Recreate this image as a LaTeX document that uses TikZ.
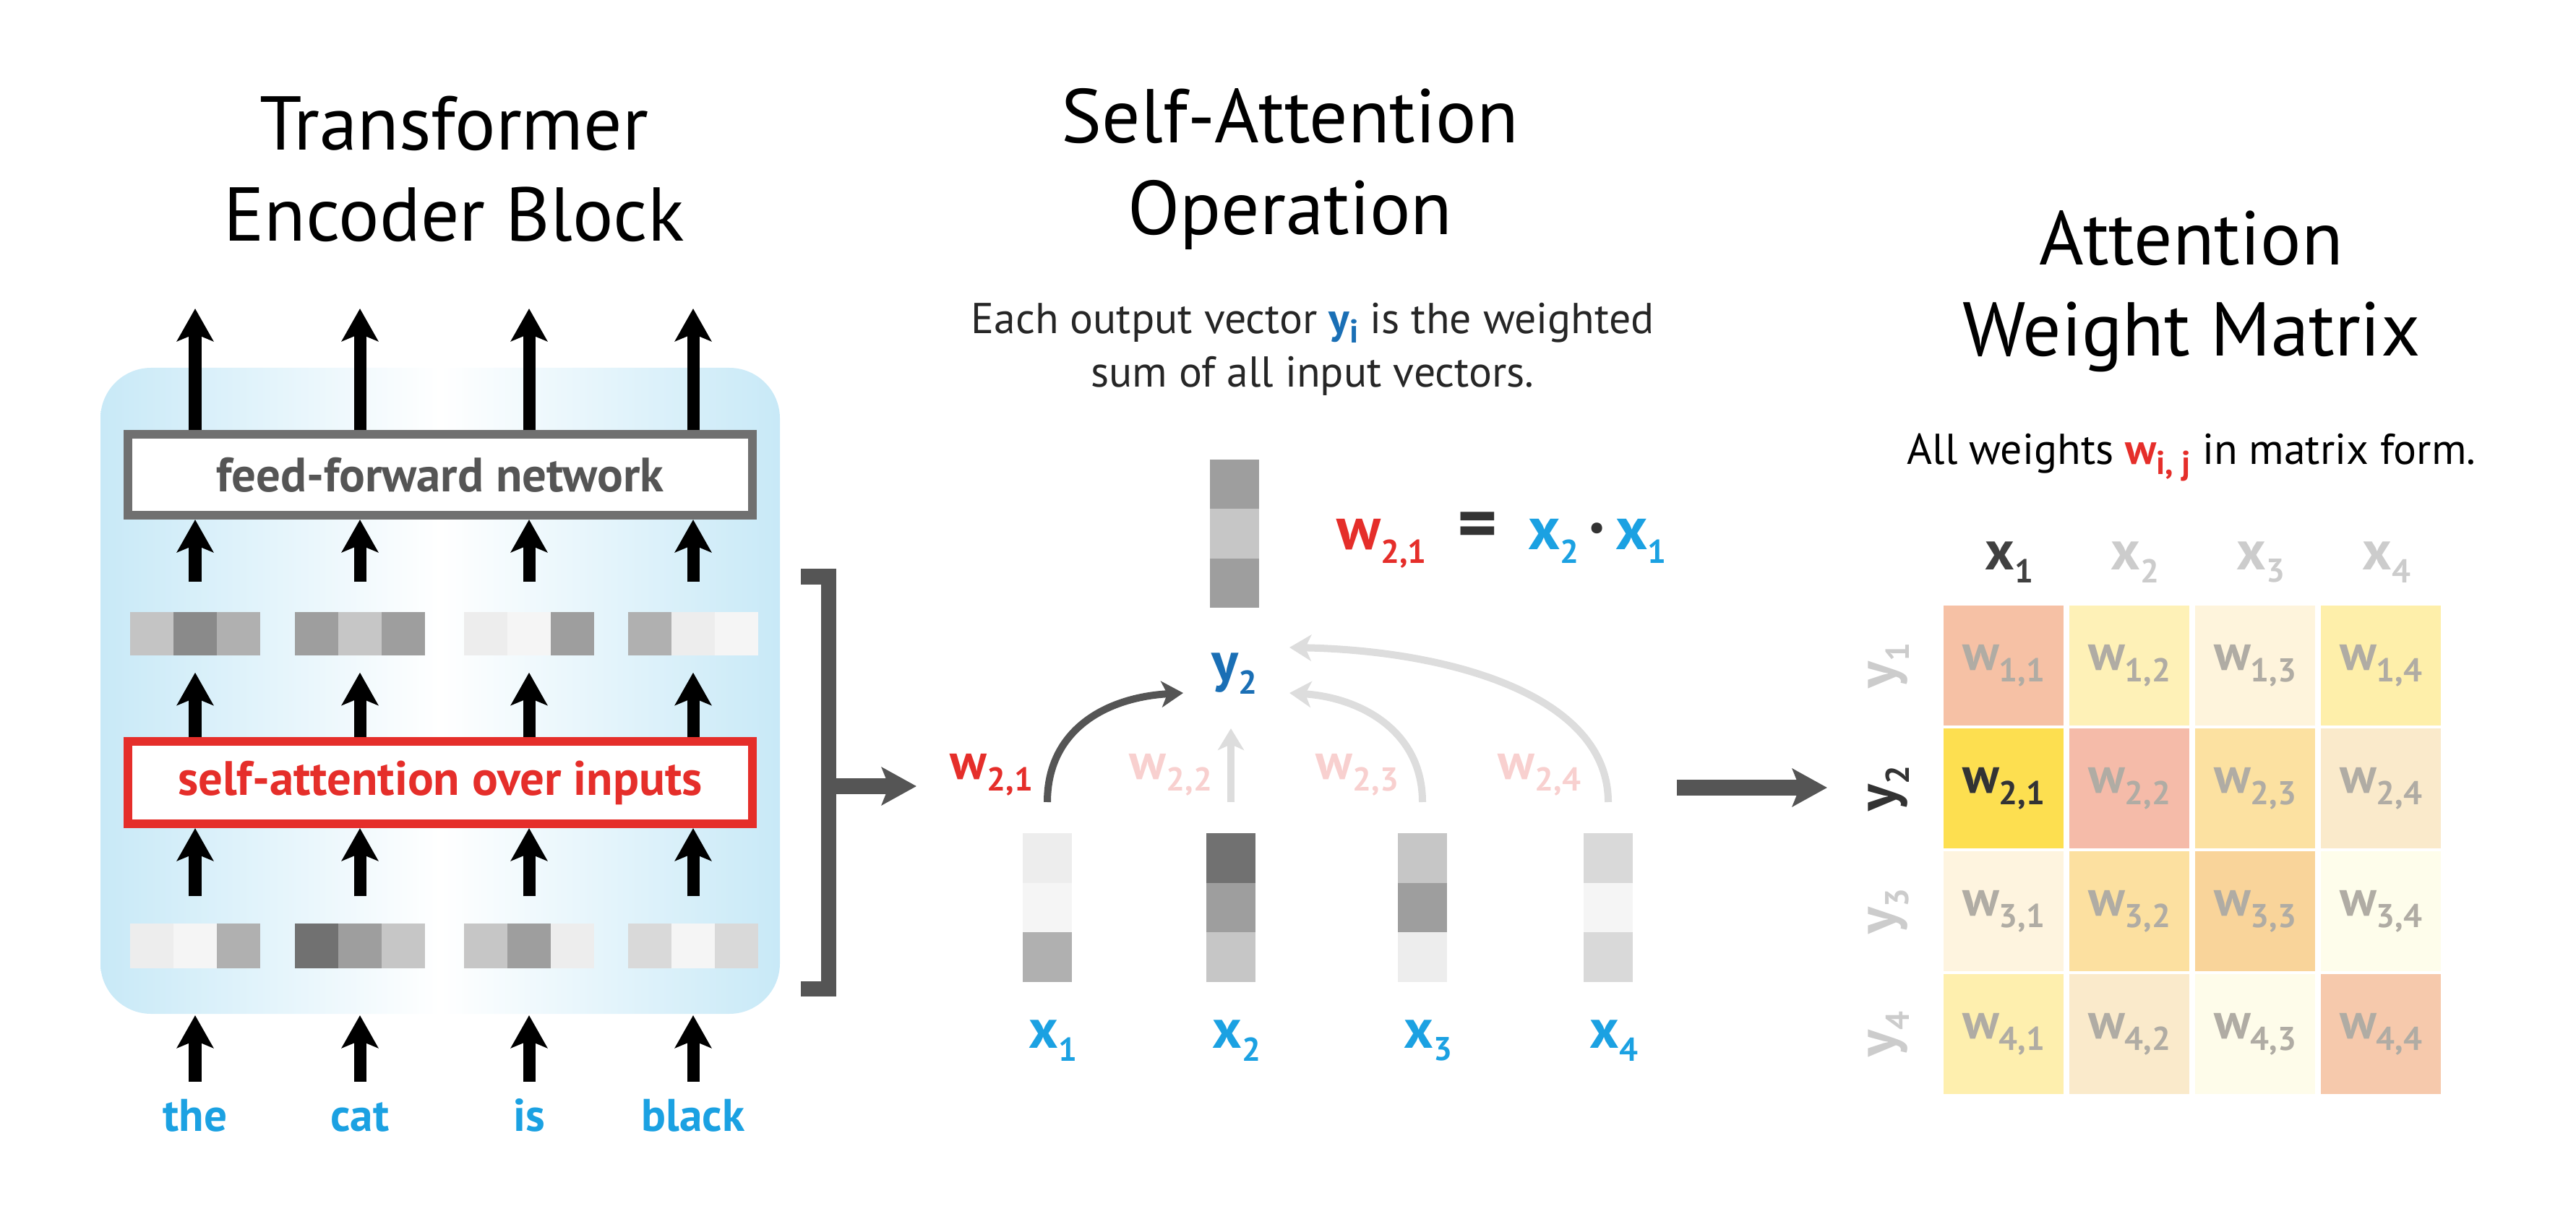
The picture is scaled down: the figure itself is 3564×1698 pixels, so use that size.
\documentclass[tikz,border=0pt]{standalone}
\usepackage{fontspec}
\setmainfont{PT Sans}
\usetikzlibrary{arrows.meta,positioning,calc}
\definecolor{lb}{HTML}{C8E9F7}
\definecolor{tblue}{HTML}{1BA1E2}
\definecolor{dblue}{HTML}{1A6FB5}
\definecolor{tred}{HTML}{E52E2A}
\definecolor{pink}{HTML}{F8D0CF}
\definecolor{dg}{HTML}{555555}
\definecolor{lg}{HTML}{DDDDDD}
\definecolor{wg}{HTML}{B0ACA4}
\definecolor{tmpc}{HTML}{FFFFFF}
\newcommand{\mysub}[2]{#1\raisebox{-0.45ex}{\fontsize{13}{13}\selectfont #2}}
\newcommand{\cfill}[3]{\definecolor{tmpc}{HTML}{#1}\fill[tmpc] #2 rectangle #3;}
\begin{document}
\begin{tikzpicture}[x=0.01cm,y=-0.01cm,
  blk/.style={line width=0.17cm,-{Stealth[width=0.5cm,length=0.45cm,inset=0.1cm]}},
  thin/.style={line width=0.1cm,-{Stealth[width=0.36cm,length=0.3cm,inset=0.08cm]}},
  ttl/.style={font=\fontsize{30}{36}\selectfont,align=center},
  sub/.style={font=\fontsize{17}{21}\selectfont,align=center,text=black!85},
  lab/.style={font=\bfseries\fontsize{18}{20}\selectfont},
  vbox/.style={minimum width=1.8cm,minimum height=0.62cm,inner sep=0pt},
  cvec/.style={minimum width=0.69cm,minimum height=2.07cm,inner sep=0pt},
  cell/.style={minimum size=1.66cm,inner sep=0pt,font=\bfseries\fontsize{20}{20}\selectfont,text=wg}]
\useasboundingbox (0,0) rectangle (3564,1698);
% titles
\node[ttl] (t1) at (628,234) {Transformer\\Encoder Block};
\node[ttl] (t2) at (1785,234) {Self-Attention\\Operation};
\node[ttl] (t3) at (3032,403) {Attention\\Weight Matrix};
\node[sub] (s2) at (1816,483) {Each output vector \textcolor{dblue}{\bfseries\mysub{y}{i}} is the weighted\\sum of all input vectors.};
\node[sub,text=black] (s3) at (3032,633) {All weights \textcolor{tred}{\bfseries\mysub{w}{i, j}} in matrix form.};
% encoder block
\shade[rounded corners=0.7cm,left color=lb,right color=lb,middle color=white] (139,509) rectangle (1079,1403);
\node[draw=black!56,line width=0.12cm,fill=white,minimum width=8.64cm,minimum height=1.12cm,inner sep=0pt,
  font=\bfseries\fontsize{19}{20}\selectfont,text=dg] (ffn) at (609,657) {feed-forward network};
\node[draw=tred,line width=0.12cm,fill=white,minimum width=8.64cm,minimum height=1.14cm,inner sep=0pt,
  font=\bfseries\fontsize{19}{20}\selectfont,text=tred] (sa) at (609,1083) {self-attention over inputs};
\foreach \i/\x/\ca/\cb/\cc/\da/\db/\dc/\w in {1/270/C4C4C4/8A8A8A/B0B0B0/EDEDED/F5F5F5/B0B0B0/the,2/498/9E9E9E/C6C6C6/9E9E9E/717171/9E9E9E/C6C6C6/cat,3/732/EDEDED/F5F5F5/9E9E9E/C6C6C6/9E9E9E/EDEDED/is,4/959/B0B0B0/EDEDED/F5F5F5/D9D9D9/F5F5F5/D9D9D9/black}{
  \node[vbox] (m\i) at (\x,877) {};
  \cfill{\ca}{(\x-90,847)}{(\x-30,907)}
  \cfill{\cb}{(\x-30,847)}{(\x+30,907)}
  \cfill{\cc}{(\x+30,847)}{(\x+90,907)}
  \node[vbox] (b\i) at (\x,1308) {};
  \cfill{\da}{(\x-90,1278)}{(\x-30,1340)}
  \cfill{\db}{(\x-30,1278)}{(\x+30,1340)}
  \cfill{\dc}{(\x+30,1278)}{(\x+90,1340)}
  \node[lab,text=tblue,anchor=base] (w\i) at (\x,1565) {\w};
  \coordinate (o\i) at (\x,427);
  \coordinate (in\i) at (\x,1497);
  \coordinate (bt\i) at (\x,1405);
  \draw[blk] (ffn.north -| m\i) -- (o\i);
  \draw[blk] ([yshift=0.4cm]m\i.north) -- (ffn.south -| m\i);
  \draw[blk] (sa.north -| m\i) -- ([yshift=-0.22cm]m\i.south);
  \draw[blk] ([yshift=0.36cm]b\i.north) -- (sa.south -| b\i);
  \draw[blk] (in\i) -- (bt\i);
}
% bracket
\coordinate (br1) at (1108,798); \coordinate (br2) at (1108,1368);
\coordinate (brm) at (1146,1088);
\draw[dg,line width=0.21cm] (br1) -- (1146,798) -- (1146,1368) -- (br2);
\coordinate (brt) at (1268,1088);
\draw[dg,line width=0.21cm,-{Stealth[width=0.52cm,length=0.48cm,inset=0.1cm]}] (brm) -- (brt);
% self-attention
\node[cvec] (y2v) at (1708,739) {};
\cfill{9E9E9E}{(1674,636)}{(1742,704)}
\cfill{C6C6C6}{(1674,704)}{(1742,773)}
\cfill{9E9E9E}{(1674,773)}{(1742,841)}
\node[lab,text=dblue,font=\bfseries\fontsize{22}{22}\selectfont] (y2) at (1708,932) {\mysub{y}{2}};
\node[lab,font=\bfseries\fontsize{24}{24}\selectfont,anchor=base west] (eq) at (1837,761)
  {\textcolor{tred}{\mysub{w}{2,1}}\ \ \textcolor{black!80}{\fontsize{30}{30}\selectfont =}\ \ \textcolor{tblue}{\mysub{x}{2}}\,\textcolor{black!80}{\fontsize{14}{14}\selectfont\raisebox{0.6ex}{\textbullet}}\,\textcolor{tblue}{\mysub{x}{1}}};
\foreach \i/\x/\ca/\cb/\cc in {1/1449/EDEDED/F5F5F5/B0B0B0,2/1703/717171/9E9E9E/C6C6C6,3/1968/C6C6C6/9E9E9E/EDEDED,4/2225/D9D9D9/F5F5F5/D9D9D9}{
  \node[cvec] (x\i) at (\x,1256) {};
  \cfill{\ca}{(\x-34,1153)}{(\x+34,1222)}
  \cfill{\cb}{(\x-34,1222)}{(\x+34,1290)}
  \cfill{\cc}{(\x-34,1290)}{(\x+34,1359)}
  \node[lab,text=tblue,font=\bfseries\fontsize{22}{22}\selectfont] (xl\i) at (\x+8,1440) {\mysub{x}{\i}};
  \coordinate (s\i) at (\x,1110);
}
\coordinate (tip1) at (1637,959);
\coordinate (tip2) at (1703,1008);
\coordinate (tip3) at (1784,959);
\coordinate (tip4) at (1784,896);
\draw[thin,lg] (s4) .. controls (2225,960) and (2000,900) .. (tip4);
\draw[thin,lg] (s3) .. controls (1968,1010) and (1880,965) .. (tip3);
\draw[thin,lg] (s2) -- (tip2);
\draw[thin,dg] (s1) .. controls (1449,1010) and (1530,965) .. (tip1);
\node[lab,text=tred,font=\bfseries\fontsize{20}{20}\selectfont] (l1) at (1372,1072) {\mysub{w}{2,1}};
\node[lab,text=pink,font=\bfseries\fontsize{20}{20}\selectfont] (l2) at (1620,1072) {\mysub{w}{2,2}};
\node[lab,text=pink,font=\bfseries\fontsize{20}{20}\selectfont] (l3) at (1878,1072) {\mysub{w}{2,3}};
\node[lab,text=pink,font=\bfseries\fontsize{20}{20}\selectfont] (l4) at (2130,1072) {\mysub{w}{2,4}};
\coordinate (ma) at (2320,1090); \coordinate (mb) at (2528,1090);
\draw[dg,line width=0.21cm,-{Stealth[width=0.52cm,length=0.48cm,inset=0.1cm]}] (ma) -- (mb);
% matrix
\foreach \r/\cl in {1/{F6C1A5,FEF1B7,FEF4DC,FEEFAA},2/{FDDF50,F5BBA9,FCE1A1,FAEACB},3/{FEF4DF,FCE0A0,F9D49A,FEFDEB},4/{FEEFAE,FAEACB,FEFCEA,F6C9AC}}{
  \foreach \cc [count=\c] in \cl {
    \definecolor{tmpc}{HTML}{\cc}
    \node[cell,fill=tmpc] (c\r\c) at ({2772+(\c-1)*174},{921+(\r-1)*170}) {\mysub{w}{\r,\c}};
  }
}
\node[cell,text=black!80] at (c21) {\mysub{w}{2,1}};
\foreach \c in {1,...,4}{
  \node[lab,text=black!20,font=\bfseries\fontsize{22}{22}\selectfont] (hx\c) at ({2780+(\c-1)*174},778) {\mysub{x}{\c}};
  \node[lab,text=black!20,font=\bfseries\fontsize{22}{22}\selectfont,rotate=90] (hy\c) at (2613,{921+(\c-1)*170}) {\mysub{y}{\c}};
}
\node[lab,text=black!75,font=\bfseries\fontsize{22}{22}\selectfont,fill=white] at (hx1) {\mysub{x}{1}};
\node[lab,text=black!80,font=\bfseries\fontsize{22}{22}\selectfont,rotate=90,fill=white] at (hy2) {\mysub{y}{2}};
\end{tikzpicture}
\end{document}
